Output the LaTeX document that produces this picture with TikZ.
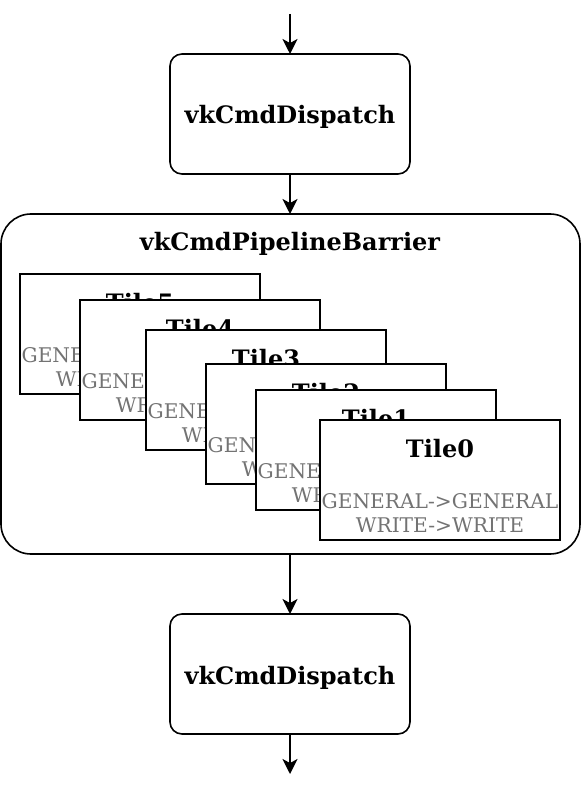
\documentclass[tikz,border=0pt]{standalone}
\usepackage{fontspec}
\setmainfont{DejaVu Serif}
\usetikzlibrary{arrows.meta, positioning, calc}

\tikzset{
  flow/.style={line width=1.6pt, -{Stealth[length=15pt, width=15pt, inset=4pt]}},
  callbox/.style={draw, line width=1.6pt, rounded corners=12pt, minimum width=240pt, minimum height=120pt, outer sep=0pt},
  tilebox/.style={draw, fill=white, line width=1.6pt, minimum width=240pt, minimum height=120pt, outer sep=0pt},
  bigtitle/.style={font=\bfseries\fontsize{24}{28}\selectfont, inner sep=0pt, anchor=base},
  tiletext/.style={font=\fontsize{20.2}{24}\selectfont, text=black!55, inner sep=0pt, anchor=base}
}

\begin{document}
\begin{tikzpicture}[x=1pt, y=-1pt]
    \useasboundingbox (0,0) rectangle (584,794);
    % Dispatch before
    \coordinate (in) at (290,14);
    \node[callbox] (disp1) at (290,114) {};
    \node[bigtitle] at (290,124) {vkCmdDispatch};
    % Barrier
    \draw[line width=1.6pt, rounded corners=30pt] (1,214) rectangle (580,554);
    \coordinate (bartop) at (290,214);
    \coordinate (barbot) at (290,554);
    \node[bigtitle] at (290,250) {vkCmdPipelineBarrier};
    % Tiles, back to front
    \foreach \n/\x/\y in {5/20/274, 4/80/300, 3/146/330, 2/206/364, 1/256/390, 0/320/420} {
      \node[tilebox, anchor=north west] (tile\n) at (\x,\y) {};
      \node[bigtitle] at ($(tile\n.north)+(0,37)$) {Tile\n};
      \node[tiletext] at ($(tile\n.north)+(0,88)$) {GENERAL->GENERAL};
      \node[tiletext] at ($(tile\n.north)+(0,112)$) {WRITE->WRITE};
    }
    % Dispatch after
    \node[callbox] (disp2) at (290,674) {};
    \node[bigtitle] at (290,684) {vkCmdDispatch};
    \coordinate (out) at (290,774);
    % Arrows
    \draw[flow] (in) -- (disp1);
    \draw[flow] (disp1) -- (bartop);
    \draw[flow] (barbot) -- (disp2);
    \draw[flow] (disp2) -- (out);
\end{tikzpicture}
\end{document}
